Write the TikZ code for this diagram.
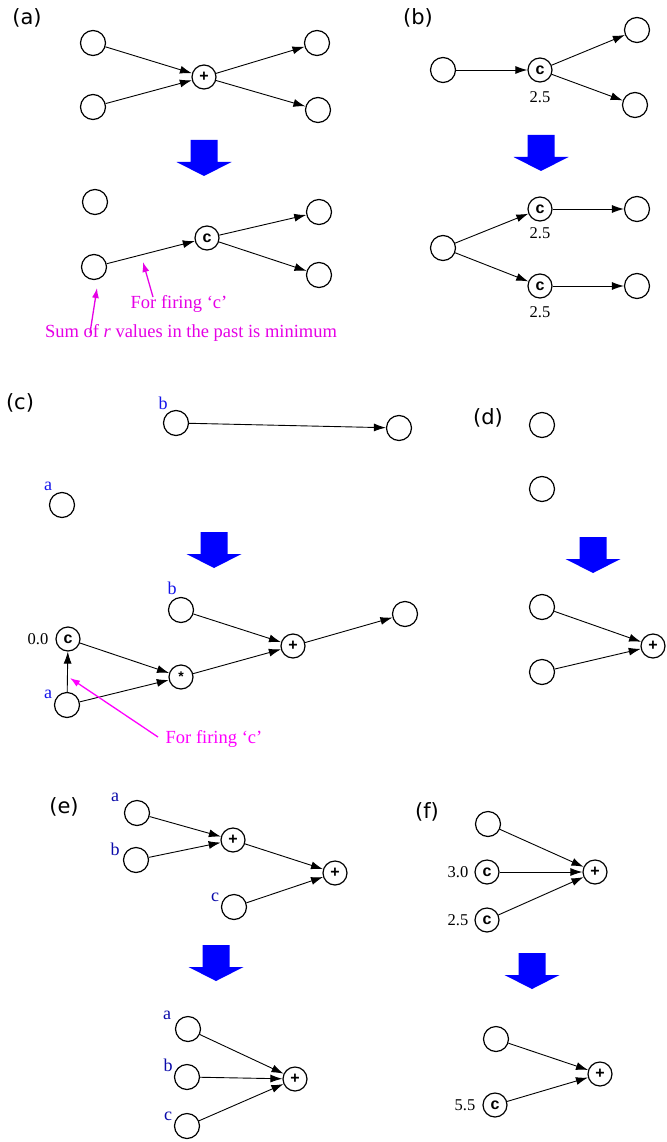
\documentclass[tikz,border=0pt]{standalone}
\usepackage{fontspec}
\setmainfont{Liberation Serif}
\newfontfamily\panelfont{DejaVu Sans}
\newfontfamily\opfont{Liberation Sans}
\usetikzlibrary{arrows.meta}
\definecolor{hint}{RGB}{230,0,230}
\definecolor{hintb}{RGB}{255,0,255}
\definecolor{varblue}{RGB}{20,20,235}
\definecolor{vardark}{RGB}{10,10,170}
\tikzset{
  plain/.style={circle,draw,line width=1.2pt,minimum size=25pt,inner sep=0pt},
  op/.style={circle,draw,line width=1.2pt,minimum size=24pt,inner sep=0pt,
    font=\opfont\bfseries\fontsize{16}{16}\selectfont},
  conn/.style={-{Latex[length=12pt,width=8pt]},line width=0.9pt},
  hintarrow/.style={-{Latex[length=10pt,width=7pt]},line width=1.3pt},
  panel/.style={font=\panelfont\fontsize{21}{21}\selectfont},
  num/.style={font=\fontsize{16.5}{16.5}\selectfont},
  var/.style={font=\fontsize{18}{18}\selectfont,text=varblue},
  vard/.style={font=\fontsize{18}{18}\selectfont,text=vardark},
  note/.style={font=\fontsize{18.5}{18.5}\selectfont,anchor=base},
  bigdown/.pic={
    \fill[blue] (-13.5,0) rectangle (13.5,22)
      (-27.5,22) -- (27.5,22) -- (0,36) -- cycle;
  }
}
\begin{document}
\begin{tikzpicture}[x=1pt,y=-1pt]
\useasboundingbox[fill=white] (0,0) rectangle (666,1142);

% ---------------- (a) ----------------
\node[panel] (la) at (27,18) {(a)};
\node[plain] (a1) at (93,43) {};
\node[plain] (a2) at (93,107) {};
\node[op] (ap) at (204,77) {+};
\node[plain] (a3) at (317,43) {};
\node[plain] (a4) at (318,110) {};
\draw[conn] (a1) -- (ap);
\draw[conn] (a2) -- (ap);
\draw[conn] (ap) -- (a3);
\draw[conn] (ap) -- (a4);
\pic at (204,140) {bigdown};
\node[plain] (b1) at (95,202) {};
\node[plain] (b2) at (94,267) {};
\node[op] (bc) at (207,238) {c};
\node[plain] (b3) at (319,212) {};
\node[plain] (b4) at (319,275) {};
\draw[conn] (b2) -- (bc);
\draw[conn] (bc) -- (b3);
\draw[conn] (bc) -- (b4);
\node[note,text=hint] (fa) at (179,308) {For firing ‘c’};
\node[note,text=hint] (sa) at (191,337) {Sum of \textit{r} values in the past is minimum};
\coordinate (fat) at (153,297);
\coordinate (fah) at (143,262);
\coordinate (sat) at (90,333);
\coordinate (sah) at (97,288);
\draw[hintarrow,hint] (fat) -- (fah);
\draw[hintarrow,hint] (sat) -- (sah);

% ---------------- (b) ----------------
\node[panel] (lb) at (418,18) {(b)};
\node[plain] (c1) at (443,70) {};
\node[op] (cc) at (540,70) {c};
\node[num] at (540,97) {2.5};
\node[plain] (c2) at (637,30) {};
\node[plain] (c3) at (635,105) {};
\draw[conn] (c1) -- (cc);
\draw[conn] (cc) -- (c2);
\draw[conn] (cc) -- (c3);
\pic at (541,135) {bigdown};
\node[plain] (d1) at (443,248) {};
\node[op] (dc1) at (540,209) {c};
\node[num] at (540,233) {2.5};
\node[op] (dc2) at (540,286) {c};
\node[num] at (540,312) {2.5};
\node[plain] (d2) at (637,209) {};
\node[plain] (d3) at (637,286) {};
\draw[conn] (d1) -- (dc1);
\draw[conn] (d1) -- (dc2);
\draw[conn] (dc1) -- (d2);
\draw[conn] (dc2) -- (d3);

% ---------------- (c) ----------------
\node[panel] (lc) at (20,403) {(c)};
\node[plain] (e1) at (176,423) {};
\node[var] at (163,403) {b};
\node[plain] (e2) at (399,428) {};
\node[plain] (e3) at (62,505) {};
\node[var] at (48,486) {a};
\draw[conn] (e1) -- (e2);
\pic at (214,532) {bigdown};
\node[plain] (f1) at (181,610) {};
\node[var] at (172,588) {b};
\node[plain] (f2) at (405,614) {};
\node[op] (fc) at (68,639) {c};
\node[num] at (38,639) {0.0};
\node[op,font=\opfont\bfseries\fontsize{14}{14}\selectfont] (fm) at (181,677) {*};
\node[op] (fp) at (293,646) {+};
\node[plain] (f3) at (67,705) {};
\node[var] at (48,694) {a};
\draw[conn] (f3) -- (fc);
\draw[conn] (fc) -- (fm);
\draw[conn] (f3) -- (fm);
\draw[conn] (fm) -- (fp);
\draw[conn] (f1) -- (fp);
\draw[conn] (fp) -- (f2);
\node[note,text=hintb] (fc2) at (214,743) {For firing ‘c’};
\coordinate (fct) at (158,737);
\coordinate (fch) at (70,678);
\draw[hintarrow,hintb] (fct) -- (fch);

% ---------------- (d) ----------------
\node[panel] (ld) at (488,418) {(d)};
\node[plain] (g1) at (542,425) {};
\node[plain] (g2) at (542,489) {};
\pic at (593,537) {bigdown};
\node[plain] (h1) at (542,607) {};
\node[plain] (h2) at (542,672) {};
\node[op] (hp) at (653,646) {+};
\draw[conn] (h1) -- (hp);
\draw[conn] (h2) -- (hp);

% ---------------- (e) ----------------
\node[panel] (le) at (64,807) {(e)};
\node[plain] (i1) at (137,813) {};
\node[vard] at (115,797) {a};
\node[plain] (i2) at (136,860) {};
\node[vard] at (115,849) {b};
\node[op] (ip1) at (233,840) {+};
\node[op] (ip2) at (335,873) {+};
\node[plain] (i3) at (234,907) {};
\node[vard] at (215,897) {c};
\draw[conn] (i1) -- (ip1);
\draw[conn] (i2) -- (ip1);
\draw[conn] (ip1) -- (ip2);
\draw[conn] (i3) -- (ip2);
\pic at (216,945) {bigdown};
\node[plain] (j1) at (188,1029) {};
\node[vard] at (167,1015) {a};
\node[plain] (j2) at (187,1077) {};
\node[vard] at (168,1065) {b};
\node[plain] (j3) at (187,1126) {};
\node[vard] at (168,1116) {c};
\node[op] (jp) at (295,1079) {+};
\draw[conn] (j1) -- (jp);
\draw[conn] (j2) -- (jp);
\draw[conn] (j3) -- (jp);

% ---------------- (f) ----------------
\node[panel] (lf) at (427,812) {(f)};
\node[plain] (k1) at (488,824) {};
\node[op] (kc1) at (487,872) {c};
\node[num] at (458,872) {3.0};
\node[op] (kc2) at (487,920) {c};
\node[num] at (458,920) {2.5};
\node[op] (kp) at (595,872) {+};
\draw[conn] (k1) -- (kp);
\draw[conn] (kc1) -- (kp);
\draw[conn] (kc2) -- (kp);
\pic at (532,953) {bigdown};
\node[plain] (m1) at (496,1039) {};
\node[op] (mp) at (600,1074) {+};
\node[op] (mc) at (495,1105) {c};
\node[num] at (465,1105) {5.5};
\draw[conn] (m1) -- (mp);
\draw[conn] (mc) -- (mp);
\end{tikzpicture}
\end{document}
